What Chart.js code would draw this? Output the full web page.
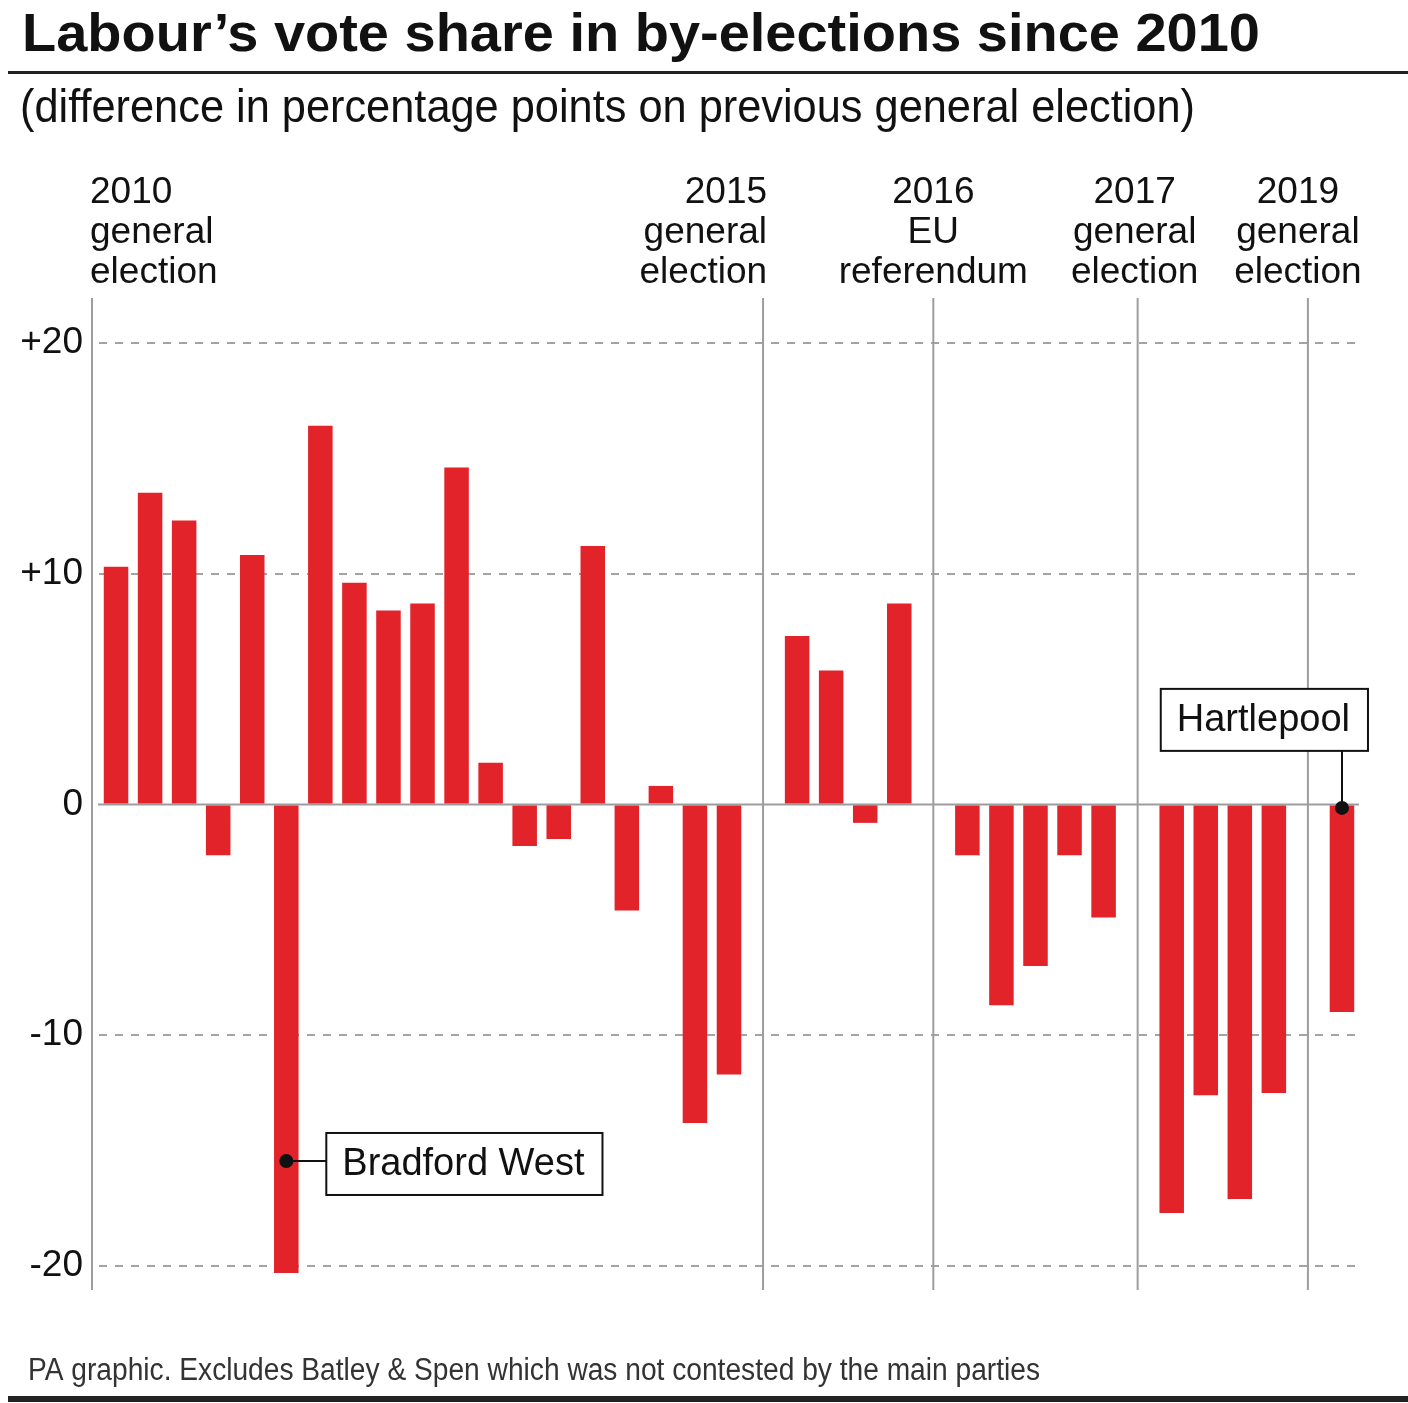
<!DOCTYPE html>
<html>
<head>
<meta charset="utf-8">
<title>Labour’s vote share in by-elections since 2010</title>
<script src="https://cdn.jsdelivr.net/npm/chart.js@4.4.1/dist/chart.umd.min.js"></script>
<style>
  html, body { margin: 0; padding: 0; background: #fff; }
  #wrap { width: 1408px; height: 1403px; }
</style>
</head>
<body>
<div id="wrap"><canvas id="voteChart" width="1408" height="1403"></canvas></div>
<script>
// By-elections in date order. The named gap slots are where the general
// elections / referendum fall, they hold no bar.
let byElections = [
  "Oldham East & Saddleworth", "Barnsley Central", "Leicester South", "Inverclyde", "Feltham & Heston",
  "Bradford West", "Manchester Central", "Corby", "Cardiff South & Penarth", "Croydon North",
  "Middlesbrough", "Rotherham", "Eastleigh", "South Shields", "Wythenshawe & Sale East",
  "Newark", "Heywood & Middleton", "Clacton", "Rochester & Strood",
  "2015 general election",
  "Oldham West & Royton", "Sheffield Brightside & Hillsborough", "Ogmore", "Tooting",
  "2016 EU referendum",
  "Witney", "Richmond Park", "Sleaford & North Hykeham", "Stoke-on-Trent Central", "Copeland",
  "2017 general election",
  "Lewisham East", "Newport West", "Peterborough", "Brecon & Radnorshire",
  "2019 general election",
  "Hartlepool"
];

// difference in percentage points on previous general election
let voteChange = [
  10.3, 13.5, 12.3, -2.2, 10.8,
  -20.3, 16.4, 9.6, 8.4, 8.7,
  14.6, 1.8, -1.8, -1.5, 11.2,
  -4.6, 0.8, -13.8, -11.7,
  null,
  7.3, 5.8, -0.8, 8.7,
  null,
  -2.2, -8.7, -7.0, -2.2, -4.9,
  null,
  -17.7, -12.6, -17.1, -12.5,
  null,
  -9.0
];

let eventSlots = ["2015 general election", "2016 EU referendum", "2017 general election", "2019 general election"];
let eventLabels = [
  ["2010", "general", "election"],
  ["2015", "general", "election"],
  ["2016", "EU", "referendum"],
  ["2017", "general", "election"],
  ["2019", "general", "election"]
];
let yTicks = [-20, -10, 0, 10, 20];
let calloutNames = ["Bradford West", "Hartlepool"];
let calloutValues = [-15.45, 0];

let titleText = "Labour’s vote share in by-elections since 2010";
let subtitleText = "(difference in percentage points on previous general election)";
let footerText = "PA graphic. Excludes Batley & Spen which was not contested by the main parties";

const FONT = '"Liberation Sans", Arial, Helvetica, sans-serif';
const GREY = "#9d9d9d";
const INK = "#111111";

// draw text squeezed/stretched to a given width
function fitText(ctx, text, x, y, width, font, color) {
  ctx.save();
  ctx.font = font;
  ctx.fillStyle = color;
  ctx.textAlign = "left";
  ctx.textBaseline = "alphabetic";
  let natural = ctx.measureText(text).width;
  ctx.translate(x, y);
  ctx.scale(width / natural, 1);
  ctx.fillText(text, 0, 0);
  ctx.restore();
}

function vLine(ctx, x, top, bottom) {
  ctx.beginPath();
  ctx.moveTo(x, top);
  ctx.lineTo(x, bottom);
  ctx.stroke();
}

let decorations = {
  id: "decorations",
  beforeDraw(chart) {
    let ctx = chart.ctx;
    ctx.save();
    ctx.fillStyle = "#fff";
    ctx.fillRect(0, 0, chart.width, chart.height);

    fitText(ctx, titleText, 22, 51, 1238, "bold 54px " + FONT, INK);
    ctx.fillStyle = "#222";
    ctx.fillRect(8, 71, chart.width - 8, 3);
    fitText(ctx, subtitleText, 20, 122, 1175, "46px " + FONT, INK);

    fitText(ctx, footerText, 28, 1380, 1012, "31px " + FONT, "#333");
    ctx.fillStyle = "#222";
    ctx.fillRect(8, 1396, chart.width - 8, 6);
    ctx.restore();
  },
  beforeDatasetsDraw(chart) {
    let ctx = chart.ctx;
    let area = chart.chartArea;
    let x = chart.scales.x;
    let y = chart.scales.y;
    ctx.save();
    ctx.strokeStyle = GREY;
    ctx.lineWidth = 2;
    // left rule for the 2010 general election
    vLine(ctx, area.left - 7, area.top, area.bottom);
    eventSlots.forEach(name => {
      let px = x.getPixelForValue(byElections.indexOf(name));
      vLine(ctx, px, area.top, area.bottom);
    });
    // zero line
    let y0 = y.getPixelForValue(0);
    ctx.beginPath();
    ctx.moveTo(area.left - 1, y0);
    ctx.lineTo(area.right, y0);
    ctx.stroke();
    ctx.restore();
  },
  afterDatasetsDraw(chart) {
    let ctx = chart.ctx;
    let area = chart.chartArea;
    let x = chart.scales.x;
    let y = chart.scales.y;
    ctx.save();

    // labels above the rules
    ctx.font = "37px " + FONT;
    ctx.fillStyle = INK;
    ctx.textBaseline = "alphabetic";
    let anchors = [area.left - 9];
    eventSlots.forEach(name => anchors.push(x.getPixelForValue(byElections.indexOf(name))));
    let aligns = ["left", "right", "center", "center", "center"];
    let shifts = [0, 4, 0, -3, -10];
    eventLabels.forEach((lines, i) => {
      ctx.textAlign = aligns[i];
      lines.forEach((line, j) => {
        ctx.fillText(line, anchors[i] + shifts[i], area.top - 95 + j * 40);
      });
    });

    // callouts
    ctx.font = "38px " + FONT;
    ctx.textAlign = "left";
    ctx.textBaseline = "middle";
    calloutNames.forEach((name, i) => {
      let dx = x.getPixelForValue(byElections.indexOf(name));
      let dy = y.getPixelForValue(calloutValues[i]);
      let tw = ctx.measureText(name).width;
      let bw = tw + 34;
      let bh = 62;
      let bx, by;
      if (i === 0) {
        bx = dx + 40;
        by = dy - bh / 2 + 3;
      } else {
        dy += 3.5;
        bx = dx + 26 - bw;
        by = dy - 57 - bh;
      }
      ctx.strokeStyle = INK;
      ctx.lineWidth = 2;
      ctx.beginPath();
      ctx.moveTo(dx, dy);
      if (i === 0) ctx.lineTo(bx, dy); else ctx.lineTo(dx, by + bh);
      ctx.stroke();
      ctx.fillStyle = "#fff";
      ctx.fillRect(bx, by, bw, bh);
      ctx.strokeRect(bx, by, bw, bh);
      ctx.fillStyle = INK;
      ctx.fillText(name, bx + 16, by + bh / 2 + 1);
      ctx.beginPath();
      ctx.arc(dx, dy, 7, 0, Math.PI * 2);
      ctx.fill();
    });
    ctx.restore();
  }
};

let ctx = document.getElementById("voteChart").getContext("2d");
let voteChart = new Chart(ctx, {
  type: "bar",
  data: {
    labels: byElections,
    datasets: [{
      label: "Labour vote share change",
      data: voteChange,
      backgroundColor: "#e2232a",
      borderWidth: 0,
      categoryPercentage: 1,
      barPercentage: 0.72
    }]
  },
  options: {
    responsive: false,
    maintainAspectRatio: false,
    animation: false,
    devicePixelRatio: 1,
    layout: { padding: { top: 298, bottom: 113, left: 0, right: 49 } },
    plugins: {
      legend: { display: false },
      title: { display: false },
      tooltip: { enabled: false }
    },
    scales: {
      x: {
        display: false,
        offset: true,
        grid: { display: false }
      },
      y: {
        min: -21.04,
        max: 21.94,
        afterFit: scale => { scale.width = 99; },
        afterBuildTicks: scale => { scale.ticks = yTicks.map(v => ({ value: v })); },
        border: { display: false, dash: [8, 8] },
        grid: {
          drawTicks: false,
          lineWidth: 2,
          color: c => (c.tick && c.tick.value === 0) ? "rgba(0,0,0,0)" : "#a3a3a3"
        },
        ticks: {
          padding: 16,
          color: INK,
          font: { family: FONT, size: 37 },
          callback: v => v > 0 ? "+" + v : String(v)
        }
      }
    }
  },
  plugins: [decorations]
});
</script>
</body>
</html>
